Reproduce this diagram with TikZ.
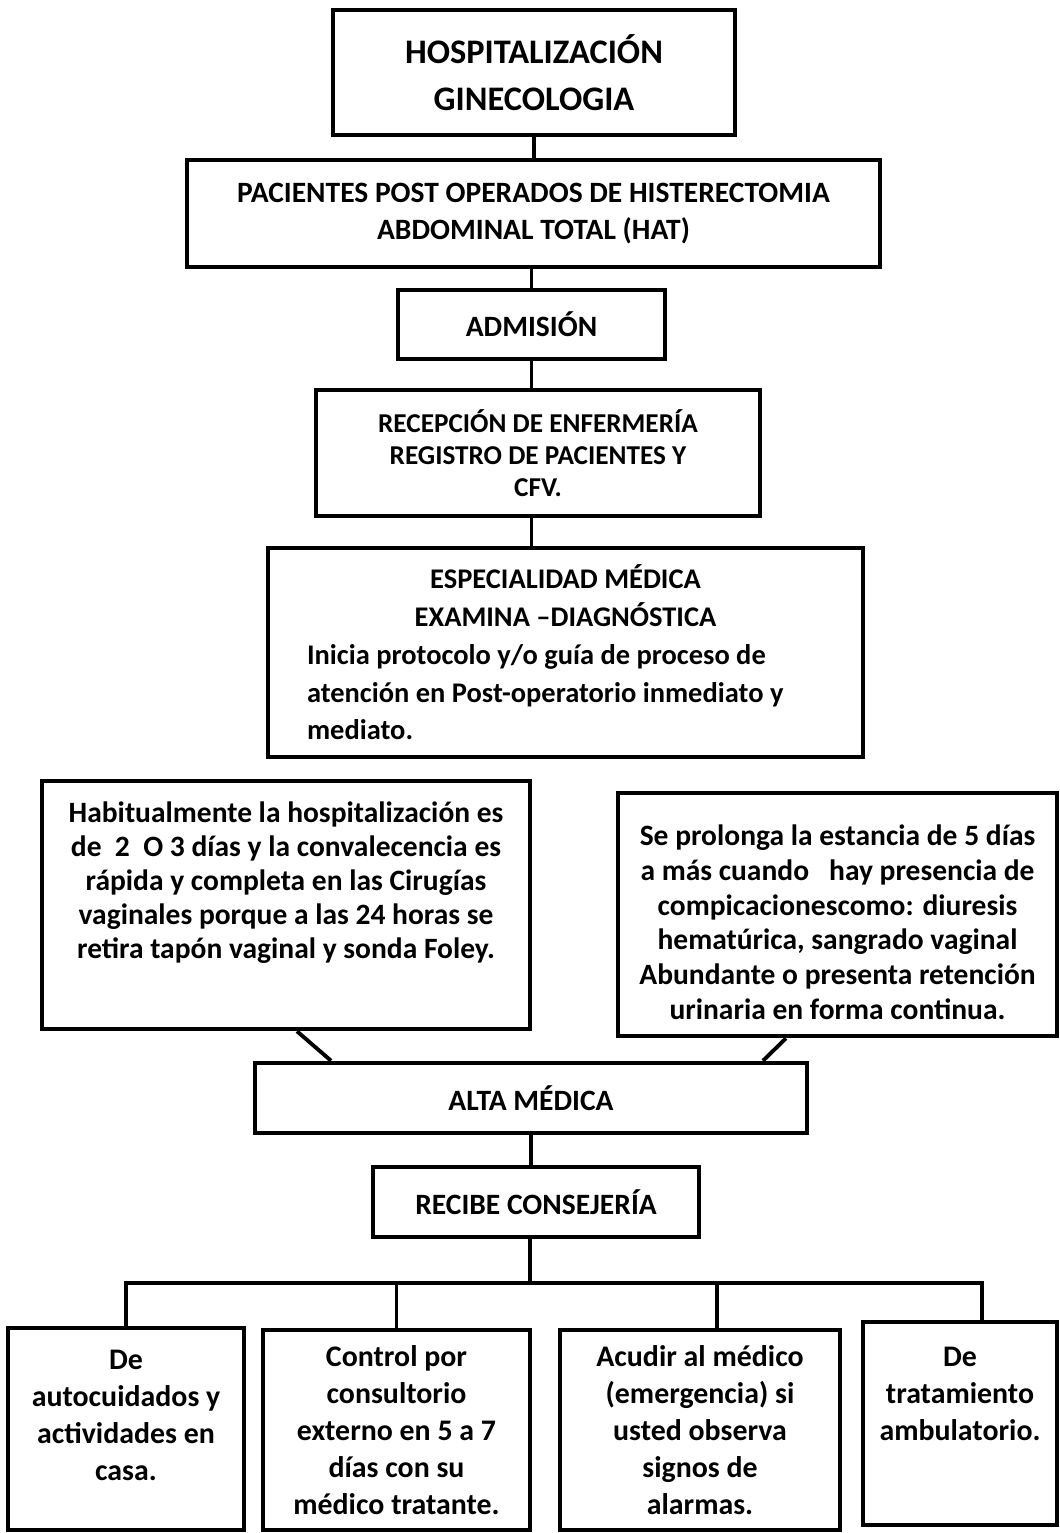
\documentclass[tikz,border=0pt]{standalone}
\usepackage{fontspec}
\setmainfont{Carlito}
\usetikzlibrary{positioning,calc}

\begin{document}
\begin{tikzpicture}[x=0.02cm,y=-0.02cm,
  frame/.style={draw,line width=2.6pt,inner sep=2pt,font=\bfseries\fontsize{16.8}{21}\selectfont},
  box/.style={frame,align=flush center},
  lnk/.style={line width=2.2pt}
]
\useasboundingbox (0,0) rectangle (1059,1533);
% Admission chain
\node[box,minimum width=8.04cm,minimum height=2.5cm,font=\bfseries\fontsize{19.6}{26.5}\selectfont] (hosp) at (534,72.5) {HOSPITALIZACIÓN\\GINECOLOGIA};
\node[box,minimum width=13.86cm,minimum height=2.14cm] (pac) at (533.5,213.5) {PACIENTES POST OPERADOS DE HISTERECTOMIA\\ABDOMINAL TOTAL (HAT)};
\node[box,minimum width=5.34cm,minimum height=1.38cm] (adm) at (531.5,324.5) {ADMISIÓN};
\node[box,minimum width=8.88cm,minimum height=2.52cm,font=\bfseries\fontsize{15.5}{18.1}\selectfont] (rec) at (538,453) {RECEPCIÓN DE ENFERMERÍA\\REGISTRO DE PACIENTES Y\\CFV.};
\node[frame,align=flush left,text width=10.34cm,minimum width=11.9cm,minimum height=4.18cm,font=\bfseries\fontsize{16.2}{21.5}\selectfont] (esp) at (565.5,652.5)
  {{\centering ESPECIALIDAD MÉDICA\\EXAMINA –DIAGNÓSTICA\par}Inicia protocolo y/o guía de proceso de\\atención en Post-operatorio inmediato y\\mediato.};
% Stay
\node[box,text width=9.5cm,minimum width=9.76cm,minimum height=4.96cm,font=\bfseries\fontsize{16.8}{19.3}\selectfont] (hab) at (286,905)
  {Habitualmente la hospitalización es\\de~ 2~ O 3 días y la convalecencia es\\rápida y completa en las Cirugías\\vaginales porque a las 24 horas se\\retira tapón vaginal y sonda Foley.\rule[-1cm]{0pt}{1cm}};
\node[box,text width=8.5cm,minimum width=8.78cm,minimum height=4.86cm,font=\bfseries\fontsize{16.8}{19.8}\selectfont] (pro) at (837.5,914.5)
  {\rule{0pt}{0.72cm}Se prolonga la estancia de 5 días\\a más cuando~~ hay presencia de\\compicacionescomo: diuresis\\hematúrica, sangrado vaginal\\Abundante o presenta retención\\urinaria en forma continua.};
% Discharge
\node[box,minimum width=11.04cm,minimum height=1.4cm] (alta) at (531,1098) {ALTA MÉDICA};
\node[box,minimum width=6.52cm,minimum height=1.4cm] (cons) at (536,1202) {RECIBE CONSEJERÍA};
\coordinate (bus) at (530,1283);
% Advice
\node[box,text width=4.5cm,minimum width=4.72cm,minimum height=4.04cm,font=\bfseries\fontsize{17}{21}\selectfont] (auto) at (126,1429)
  {De\\autocuidados y\\actividades en\\casa.\rule[-0.56cm]{0pt}{0.56cm}};
\node[box,text width=5.1cm,minimum width=5.34cm,minimum height=4cm,font=\bfseries\fontsize{17}{21}\selectfont] (ctrl) at (396.5,1430)
  {Control por\\consultorio\\externo en 5 a 7\\días con su\\médico tratante.};
\node[box,text width=5.4cm,minimum width=5.6cm,minimum height=4cm,font=\bfseries\fontsize{17}{21}\selectfont] (acu) at (700,1430)
  {Acudir al médico\\(emergencia) si\\usted observa\\signos de\\alarmas.};
\node[box,text width=3.7cm,minimum width=3.88cm,minimum height=4.06cm,font=\bfseries\fontsize{17}{21}\selectfont] (trat) at (960,1423.5)
  {De\\tratamiento\\ambulatorio.\rule[-1.2cm]{0pt}{1.2cm}};

% Connectors
\draw[lnk] (hosp.south) -- (hosp.south |- pac.north);
\draw[lnk] (adm.north |- pac.south) -- (adm.north);
\draw[lnk] (adm.south) -- (adm.south |- rec.north);
\draw[lnk] (adm.south |- rec.south) -- (adm.south |- esp.north);
\draw[lnk] ([xshift=0.22cm]hab.south) -- ([xshift=-4cm]alta.north);
\draw[lnk] ([xshift=-1.03cm]pro.south) -- ([xshift=4.64cm]alta.north);
\draw[lnk] (alta.south) -- (alta.south |- cons.north);
\draw[lnk] (bus |- cons.south) -- (bus);
\draw[lnk] (auto.north) |- (bus) -| ([xshift=0.44cm]trat.north);
\draw[lnk] (ctrl.north) -- (ctrl.north |- bus);
\draw[lnk] ([xshift=0.34cm]acu.north) -- ([xshift=0.34cm]acu.north |- bus);
\end{tikzpicture}
\end{document}
